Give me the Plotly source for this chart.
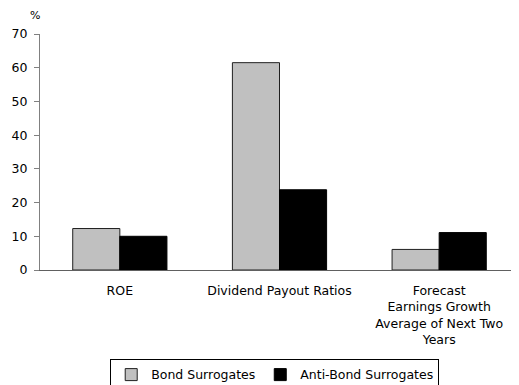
import plotly.graph_objects as go

categories = ["ROE", "Dividend Payout Ratios", "Forecast<br>Earnings Growth<br>Average of Next Two<br>Years"]
bond_surrogates = [12.3, 61.5, 6.1]
anti_bond_surrogates = [10.0, 23.8, 11.1]
y_ticks = [0, 10, 20, 30, 40, 50, 60, 70]

font = dict(family="DejaVu Sans", size=12.5, color="#000000")

fig = go.Figure()
fig.add_trace(go.Bar(x=categories, y=bond_surrogates, name="Bond Surrogates",
                     marker=dict(color="#c0c0c0", line=dict(color="#202020", width=1))))
fig.add_trace(go.Bar(x=categories, y=anti_bond_surrogates, name="Anti-Bond Surrogates",
                     marker=dict(color="#000000", line=dict(color="#000000", width=1))))

# page body has an 8px default margin, so the figure is sized to fit the rest
fig.update_layout(
    width=511, height=377,
    margin=dict(l=32, r=0, t=26, b=115, autoexpand=False),
    paper_bgcolor="white", plot_bgcolor="white",
    font=font,
    barmode="group", bargap=0.41, bargroupgap=0,
    showlegend=True,
    legend=dict(orientation="h", x=0.49, xanchor="center", y=-0.377, yanchor="top",
                bordercolor="#000000", borderwidth=1, font=font,
                itemwidth=30, tracegroupgap=0),
    xaxis=dict(showline=True, linecolor="#606060", linewidth=1, ticks="",
               tickangle=0, showgrid=False, tickfont=font, automargin=False,
               ticklabelstandoff=9),
    yaxis=dict(range=[0, 70], tickvals=y_ticks, showline=True, linecolor="#808080",
               linewidth=1, ticks="outside", ticklen=5, tickcolor="#808080",
               showgrid=False, zeroline=False, tickfont=font, automargin=False,
               ticklabelstandoff=4),
    annotations=[dict(text="%", x=-0.0104, y=1.08, xref="paper", yref="paper",
                      xanchor="center", yanchor="middle", showarrow=False,
                      font=dict(family="DejaVu Sans", size=11, color="#000000"))],
)

fig.write_html("out.html")
